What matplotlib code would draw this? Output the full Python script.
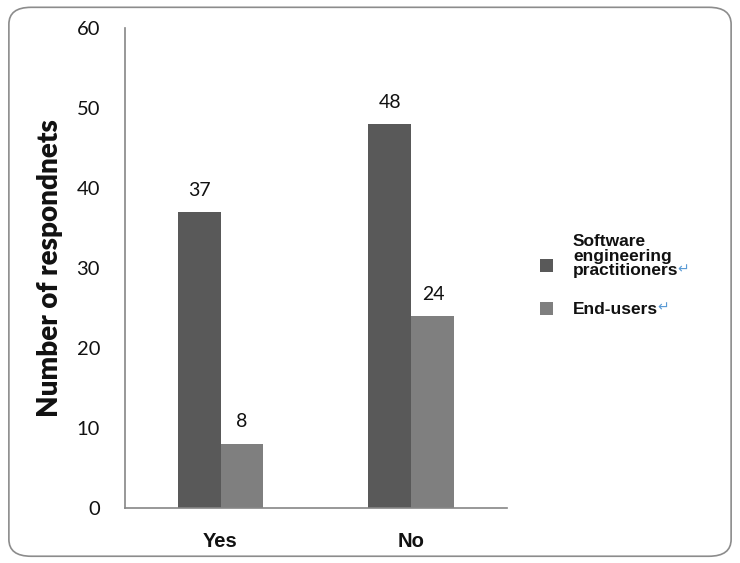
import matplotlib.pyplot as plt
import numpy as np
from matplotlib.patches import FancyBboxPatch, Rectangle

categories = ['Yes', 'No']
practitioners = [37, 48]
end_users = [8, 24]
series_names = ['Software\nengineering\npractitioners', 'End-users']
y_ticks = [0, 10, 20, 30, 40, 50, 60]

dark = '#595959'
light = '#7f7f7f'
ink = '#111111'
W, H = 740, 563

fig = plt.figure(figsize=(W / 100, H / 100), dpi=100)

# rounded chart-area border, kept behind the axes
border = FancyBboxPatch((0.012, 0.012), 0.976, 0.975, boxstyle='round,pad=0,rounding_size=0.03',
                        transform=fig.transFigure, facecolor='white', edgecolor='#8c8c8c',
                        linewidth=1.2, zorder=-5)
fig.patches.append(border)

ax = fig.add_axes([0.169, 0.0977, 0.516, 0.852])
ax.set_facecolor('none')

x = np.arange(len(categories))
w = 0.225
b1 = ax.bar(x - w / 2, practitioners, w, color=dark)
b2 = ax.bar(x + w / 2, end_users, w, color=light)

for bars, vals in ((b1, practitioners), (b2, end_users)):
    for rect, v in zip(bars, vals):
        ax.text(rect.get_x() + rect.get_width() / 2, v + 1.7, str(v), ha='center', va='bottom',
                fontsize=14, family='Lato', color=ink)

ax.set_xlim(-0.5, 1.5)
ax.set_ylim(0, 60)
ax.set_yticks(y_ticks)
ax.set_xticks(x)
ax.set_xticklabels(categories, fontsize=14.5, fontweight='bold', family='Liberation Sans', color=ink)
ax.tick_params(axis='y', length=0, pad=18, labelsize=14.5, labelcolor=ink)
ax.tick_params(axis='x', length=0, pad=17)
for lab in ax.get_yticklabels():
    lab.set_family('Lato')
for s in ('top', 'right'):
    ax.spines[s].set_visible(False)
for s in ('left', 'bottom'):
    ax.spines[s].set_color('#868686')
    ax.spines[s].set_linewidth(1.2)

ax.set_ylabel('Number of respondnets', fontsize=20, fontweight='heavy', family='Lato',
              labelpad=10, color=ink)

# legend drawn by hand: swatch, label, blue return mark
swatch_y = [265, 308]
text_y = [256, 309]
fig.canvas.draw()
r = fig.canvas.get_renderer()
for name, col, sy, ty in zip(series_names, [dark, light], swatch_y, text_y):
    fig.patches.append(Rectangle((540 / W, 1 - (sy + 6.5) / H), 13 / W, 13 / H,
                                 transform=fig.transFigure, facecolor=col, edgecolor='none'))
    t = fig.text(573 / W, 1 - ty / H, name, ha='left', va='center', color=ink,
                 family='Liberation Sans', fontweight='bold', fontsize=12.5, linespacing=0.97)
    bb = t.get_window_extent(r)
    fig.text(bb.x1 / W - 0.001, bb.y0 / H + 0.003, '\u21b5', fontsize=10, color='#5b9bd5',
             family='DejaVu Sans', ha='left', va='bottom')

fig.savefig('out.png', dpi=100)
